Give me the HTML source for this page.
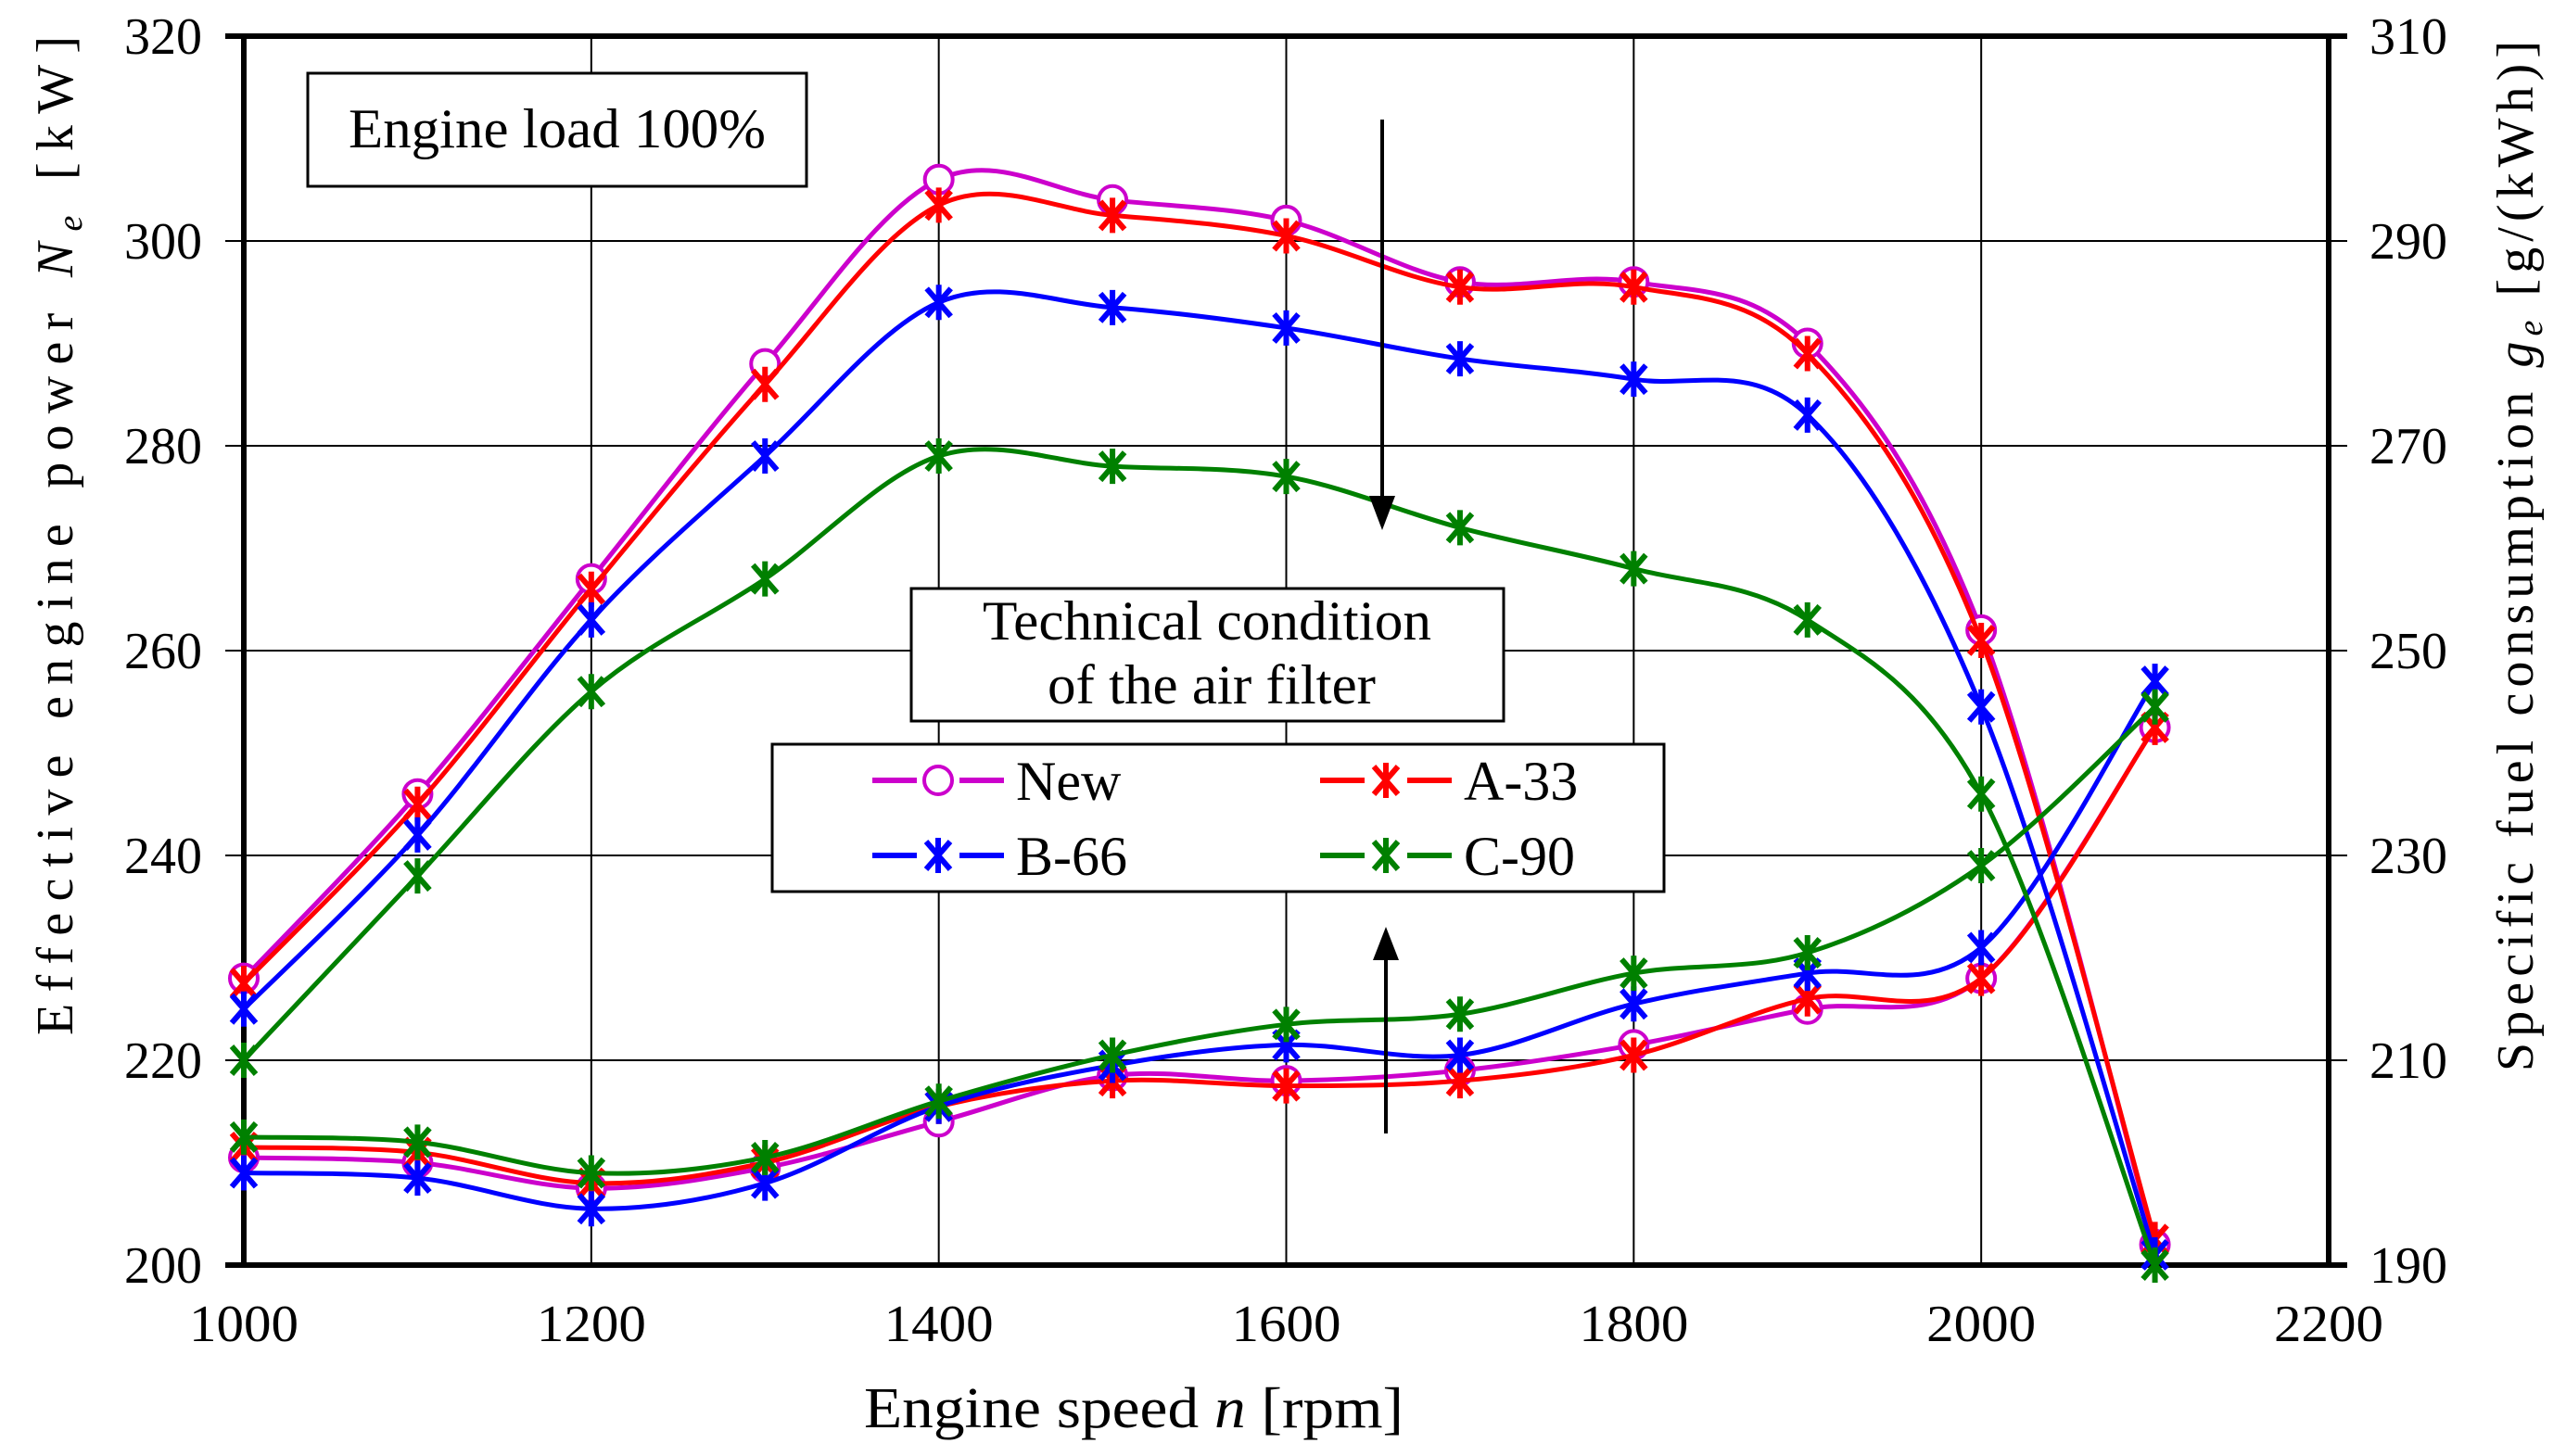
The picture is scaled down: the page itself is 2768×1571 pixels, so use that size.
<!DOCTYPE html>
<html><head><meta charset="utf-8"><style>
html,body{margin:0;padding:0;background:#fff;}
svg{display:block;font-family:"Liberation Serif",serif;}
</style></head><body>
<svg id="chart" width="2768" height="1571" viewBox="0 0 2768 1571" xmlns="http://www.w3.org/2000/svg">
<g id="grid"></g>
<g id="series"></g>
<g id="axes"></g>
<g>
<rect x="332" y="79" width="538" height="122" fill="#fff" stroke="#000" stroke-width="3"/>
<text x="601" y="159" font-size="60" text-anchor="middle" textLength="450" lengthAdjust="spacingAndGlyphs">Engine load 100%</text>
</g>
<g>
<line x1="1491" y1="129" x2="1491" y2="545" stroke="#000" stroke-width="4"/>
<polygon points="1477,535 1505,535 1491,572" fill="#000"/>
</g>
<g>
<line x1="1495" y1="1223" x2="1495" y2="1028" stroke="#000" stroke-width="4"/>
<polygon points="1481,1036 1509,1036 1495,1000" fill="#000"/>
</g>
<g>
<rect x="983" y="635" width="639" height="143" fill="#fff" stroke="#000" stroke-width="3"/>
<text x="1302" y="690" font-size="60" text-anchor="middle" textLength="484" lengthAdjust="spacingAndGlyphs">Technical condition</text>
<text x="1307" y="759" font-size="60" text-anchor="middle" textLength="354" lengthAdjust="spacingAndGlyphs">of the air filter</text>
</g>
<g id="legend">
<rect x="833" y="803" width="962" height="159" fill="#fff" stroke="#000" stroke-width="3"/>
</g>
</svg>
<script>
const xValues=[1000,1100,1200,1300,1400,1500,1600,1700,1800,1900,2000,2100];
const seriesNames=["New","A-33","B-66","C-90"];
const powerNew=[228,246,267,288,306,304,302,296,296,290,262,202];
const powerA33=[227.5,245,266,286,303.5,302.5,300.5,295.5,295.5,289,261,202.5];
const powerB66=[225,242,263,279,294,293.5,291.5,288.5,286.5,283,254.5,201];
const powerC90=[220,238,256,267,279,278,277,272,268,263,246,200];
const sfcNew=[200.5,200,197.5,199.5,204,208.5,208,209,211.5,215,218,242.5];
const sfcA33=[201.5,201,198,200,205.5,208,207.5,208,210.5,216,218,242.5];
const sfcB66=[199,198.5,195.5,198,205.5,209.5,211.5,210.5,215.5,218.5,221,247];
const sfcC90=[202.5,202,199,200.5,206,210.5,213.5,214.5,218.5,220.5,229,244.5];
const xTicks=[1000,1200,1400,1600,1800,2000,2200];
const yLeftTicks=[200,220,240,260,280,300,320];
const yRightTicks=[190,210,230,250,270,290,310];

const L=263,R=2512,T=39,B=1365;
const xs=v=>L+(v-1000)/1200*(R-L);
const yl=v=>B-(v-200)/120*(B-T);
const yr=v=>B-(v-190)/120*(B-T);
const NS="http://www.w3.org/2000/svg";
function mk(tag,attrs,parent){const e=document.createElementNS(NS,tag);for(const k in attrs)e.setAttribute(k,attrs[k]);parent.appendChild(e);return e;}
const grid=document.getElementById('grid'),axes=document.getElementById('axes'),ser=document.getElementById('series'),leg=document.getElementById('legend');

xTicks.forEach((t,i)=>{
  const gl=mk('line',{x1:xs(t),x2:xs(t),y1:T,y2:B,stroke:'#000','stroke-width':(i==0||i==xTicks.length-1)?6:2},grid);
  
  
  const tl=mk('text',{x:xs(t),y:B+82,'font-size':56,'text-anchor':'middle',textLength:118,lengthAdjust:'spacingAndGlyphs'},axes);
  tl.textContent=t;
  
  
});
yLeftTicks.forEach((t,i)=>{
  const gl=mk('line',{x1:L-20,x2:R+20,y1:yl(t),y2:yl(t),stroke:'#000','stroke-width':(i==0||i==yLeftTicks.length-1)?6:2},grid);
  
  
  const tl=mk('text',{x:218,y:yl(t)+19,'font-size':56,'text-anchor':'end'},axes);
  tl.textContent=t;
  
  
});
yRightTicks.forEach(t=>{
  const tl=mk('text',{x:2556,y:yr(t)+19,'font-size':56,'text-anchor':'start'},axes);
  tl.textContent=t;
  
  
});
let tt=mk('text',{x:1223,y:1540,'font-size':62,'text-anchor':'middle',textLength:582,lengthAdjust:'spacingAndGlyphs'},axes);
tt.innerHTML='Engine speed <tspan font-style="italic">n</tspan> [rpm]';


tt=mk('text',{x:0,y:0,'font-size':56,'text-anchor':'middle',transform:'translate(78,578) rotate(-90)',textLength:1078,lengthAdjust:'spacing'},axes);
tt.innerHTML='Effective engine power <tspan font-style="italic">N</tspan><tspan font-style="italic" font-size="38" dy="10">e</tspan><tspan dy="-10"> [kW]</tspan>';


tt=mk('text',{x:0,y:0,'font-size':56,'text-anchor':'middle',transform:'translate(2732,600) rotate(-90)',textLength:1112,lengthAdjust:'spacing'},axes);
tt.innerHTML='Specific fuel consumption <tspan font-style="italic">g</tspan><tspan font-style="italic" font-size="38" dy="10">e</tspan><tspan dy="-10"> [g/(kWh)]</tspan>';



function spline(pts){
  let d=`M${pts[0][0]},${pts[0][1]}`;
  for(let i=0;i<pts.length-1;i++){
    const p0=pts[Math.max(0,i-1)],p1=pts[i],p2=pts[i+1],p3=pts[Math.min(pts.length-1,i+2)];
    const c1x=p1[0]+(p2[0]-p0[0])/6,c1y=p1[1]+(p2[1]-p0[1])/6;
    const c2x=p2[0]-(p3[0]-p1[0])/6,c2y=p2[1]-(p3[1]-p1[1])/6;
    d+=` C${c1x},${c1y} ${c2x},${c2y} ${p2[0]},${p2[1]}`;
  }
  return d;
}
function marker(x,y,type,color,parent,name){
  let m;
  if(type=='circle'){
    m=mk('circle',{cx:x,cy:y,r:15,fill:'#fff',stroke:color,'stroke-width':4},parent);
  }else{
    m=mk('path',{d:`M${x},${y-19}V${y+19}M${x-13},${y-15}L${x+13},${y+15}M${x+13},${y-15}L${x-13},${y+15}`,stroke:color,'stroke-width':6,fill:'none'},parent);
  }
  
  
}
const defs=[
 {name:'new',color:'#CC00CC',type:'circle',p:powerNew,s:sfcNew},
 {name:'a-33',color:'#FF0000',type:'star',p:powerA33,s:sfcA33},
 {name:'b-66',color:'#0000FF',type:'star',p:powerB66,s:sfcB66},
 {name:'c-90',color:'#008000',type:'star',p:powerC90,s:sfcC90}
];
defs.forEach(dd=>{
  [['power',dd.p,yl],['sfc',dd.s,yr]].forEach(([kind,arr,ys])=>{
    const pts=arr.map((v,i)=>[xs(xValues[i]),ys(v)]);
    const path=mk('path',{d:spline(pts),fill:'none',stroke:dd.color,'stroke-width':5},ser);
    
    
    pts.forEach(p=>marker(p[0],p[1],dd.type,dd.color,ser,kind+'-point-'+dd.name));
  });
});
const legPos=[[941,842],[1424,842],[941,923],[1424,923]];
defs.forEach((dd,i)=>{
  const [x,y]=legPos[i];
  const ln=mk('line',{x1:x,x2:x+142,y1:y,y2:y,stroke:dd.color,'stroke-width':6},leg);
  
  
  mk('rect',{x:x+48,y:y-22,width:46,height:44,fill:'#fff'},leg);
  marker(x+71,y,dd.type,dd.color,leg,'legend-marker-'+dd.name);
  const tx=mk('text',{x:x+155,y:y+21,'font-size':60},leg);
  tx.textContent=seriesNames[i];
  
  
});
</script>
</body></html>
